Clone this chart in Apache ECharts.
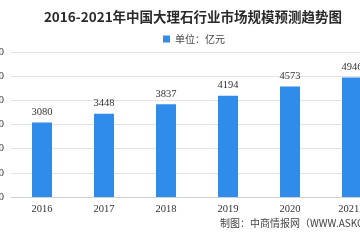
<!DOCTYPE html>
<html><head><meta charset="utf-8">
<script src="https://cdn.jsdelivr.net/npm/echarts@6/dist/echarts.min.js"></script>
<style>html,body{margin:0;padding:0;background:#fff}#c{width:360px;height:240px}</style>
</head><body><div id="c"></div>
<script>
const titleText = '2016-2021年中国大理石行业市场规模预测趋势图';
const legendName = '单位：亿元';
const footerText = '制图：中商情报网（WWW.ASKCI.COM）';
const categories = ['2016', '2017', '2018', '2019', '2020', '2021E'];
const values = [3080, 3448, 3837, 4194, 4573, 4946];
const yTicks = { min: 0, max: 6000, interval: 1000 };

const chart = echarts.init(document.getElementById('c'), null, { renderer: 'canvas' });
chart.setOption({
  animation: false,
  backgroundColor: '#fff',
  title: {
    text: titleText, left: 188, top: 5, textAlign: 'center',
    textStyle: { fontFamily: 'Noto Sans CJK SC', fontSize: 13.5, fontWeight: 'bold', color: '#2a2a2a' }
  },
  legend: {
    data: [legendName], left: 158, top: 29, itemWidth: 7, itemHeight: 7, itemGap: 4,
    icon: 'rect',
    textStyle: { fontFamily: 'Noto Sans CJK SC', fontSize: 10, color: '#444' }
  },
  graphic: [{
    type: 'text', left: 220, top: 218,
    style: { text: footerText, font: '10px "Noto Sans CJK SC"', fill: '#444' }
  }],
  grid: { left: 11, top: 52, width: 372, bottom: 43, containLabel: false, outerBoundsMode: 'none' },
  xAxis: {
    type: 'category', data: categories,
    axisLine: { lineStyle: { color: '#d0d0d0' } },
    axisTick: { show: false },
    axisLabel: { fontFamily: 'Liberation Serif', fontSize: 10.5, color: '#333', margin: 7 }
  },
  yAxis: {
    type: 'value', min: yTicks.min, max: yTicks.max, interval: yTicks.interval,
    axisLine: { show: false }, axisTick: { show: false },
    splitLine: { lineStyle: { color: '#e3e3e3' } },
    axisLabel: { fontFamily: 'Liberation Serif', fontSize: 10.5, color: '#333', margin: 7, formatter: v => String(v) }
  },
  series: [{
    name: legendName, type: 'bar', data: values, barWidth: 20,
    itemStyle: { color: '#2f8ceb' },
    label: { show: true, position: 'top', distance: 5, fontFamily: 'Liberation Serif', fontSize: 10.5, color: '#333' }
  }]
});
</script></body></html>
